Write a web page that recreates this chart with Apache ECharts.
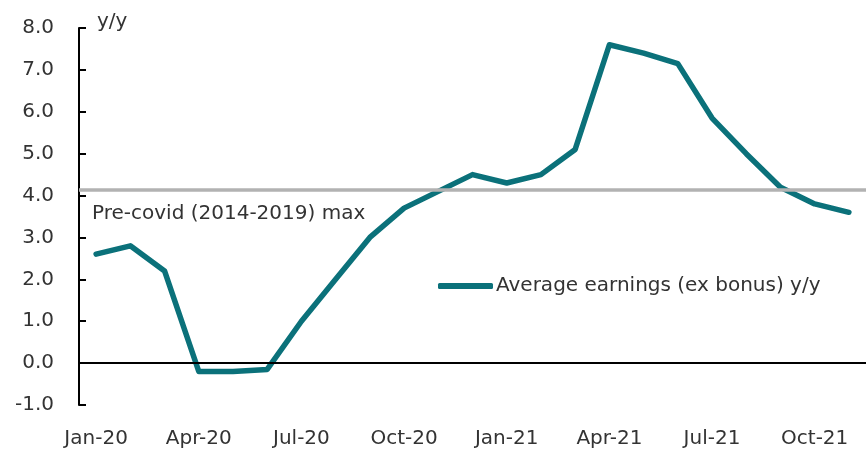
<!DOCTYPE html>
<html>
<head>
<meta charset="utf-8">
<script src="https://cdn.jsdelivr.net/npm/echarts@6/dist/echarts.min.js"></script>
<style>
  html, body { margin: 0; padding: 0; background: #fff; }
  #chart { width: 868px; height: 451px; }
</style>
</head>
<body>
<div id="chart"></div>
<script>
// Monthly labels, Jan-20 to Nov-21
const months = ['Jan-20', 'Feb-20', 'Mar-20', 'Apr-20', 'May-20', 'Jun-20', 'Jul-20', 'Aug-20', 'Sep-20', 'Oct-20', 'Nov-20', 'Dec-20',
                'Jan-21', 'Feb-21', 'Mar-21', 'Apr-21', 'May-21', 'Jun-21', 'Jul-21', 'Aug-21', 'Sep-21', 'Oct-21', 'Nov-21'];

// Average earnings (ex bonus) y/y
const earnings = [2.6, 2.8, 2.2, -0.2, -0.2, -0.15, 1.0, 2.0, 3.0, 3.7, 4.1, 4.5,
                  4.3, 4.5, 5.1, 7.6, 7.4, 7.15, 5.85, 5.0, 4.2, 3.8, 3.6];

// Pre-covid (2014-2019) max
const preCovidMax = 4.15;

const textColor = '#333333';
const font = 'DejaVu Sans';
const fontSize = 20;
const teal = '#0b717a';

const chart = echarts.init(document.getElementById('chart'), null, { renderer: 'canvas' });

chart.setOption({
    animation: false,
    grid: { left: 79, right: 2, top: 28, bottom: 46 },
    textStyle: { fontFamily: font },
    legend: {
        data: ['Average earnings (ex bonus) y/y'],
        left: 438,
        top: 276,
        padding: 0,
        icon: 'roundRect',
        itemWidth: 55,
        itemHeight: 6,
        itemGap: 4,
        textStyle: { color: textColor, fontSize: fontSize, fontFamily: font, padding: [0, 0, 0, -2] }
    },
    xAxis: {
        type: 'category',
        data: months,
        boundaryGap: true,
        axisLine: { show: false },
        axisTick: { show: false },
        axisLabel: {
            interval: 2,
            color: textColor,
            fontSize: fontSize,
            fontFamily: font,
            margin: 24
        }
    },
    yAxis: {
        type: 'value',
        min: -1,
        max: 8,
        interval: 1,
        splitLine: { show: false },
        axisLine: { show: true, lineStyle: { color: '#000', width: 2 } },
        axisTick: { show: true, inside: true, length: 7, lineStyle: { color: '#000', width: 2 } },
        axisLabel: {
            color: textColor,
            fontSize: fontSize,
            fontFamily: font,
            margin: 25,
            formatter: v => v.toFixed(1)
        }
    },
    graphic: [
        {
            type: 'text',
            left: 97,
            top: 12,
            style: { text: 'y/y', fill: textColor, font: fontSize + 'px "DejaVu Sans"' }
        },
        {
            type: 'text',
            left: 92,
            top: 204,
            style: { text: 'Pre-covid (2014-2019) max', fill: textColor, font: fontSize + 'px "DejaVu Sans"' }
        }
    ],
    series: [
        {
            // reference lines: pre-covid max and zero
            type: 'line',
            data: [],
            z: 1,
            markLine: {
                silent: true,
                symbol: ['none', 'none'],
                label: { show: false },
                animation: false,
                data: [
                    { yAxis: preCovidMax, lineStyle: { color: '#b2b2b2', width: 3.5, type: 'solid' } },
                    { yAxis: 0, lineStyle: { color: '#000', width: 2, type: 'solid' } }
                ]
            }
        },
        {
            name: 'Average earnings (ex bonus) y/y',
            type: 'line',
            data: earnings,
            z: 3,
            symbol: 'none',
            color: teal,
            lineStyle: { width: 5.5, color: teal, cap: 'round', join: 'round' }
        }
    ]
});
</script>
</body>
</html>
